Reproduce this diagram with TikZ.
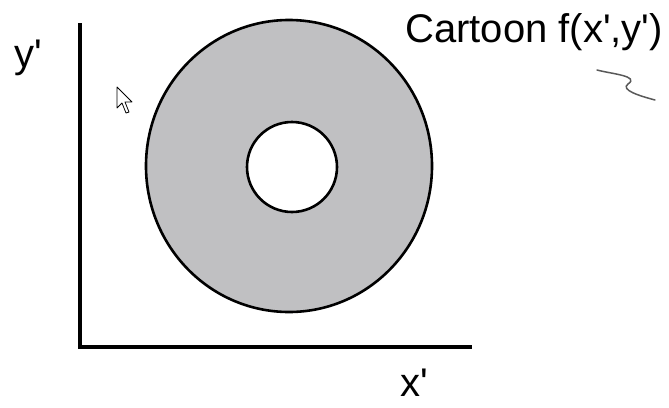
\documentclass[tikz,border=0pt]{standalone}
\usepackage{fontspec}
\setmainfont{Liberation Sans}
\usepackage{tikz}
\definecolor{ringgray}{RGB}{192,192,194}

\begin{document}
\begin{tikzpicture}[x=1pt, y=-1pt, line width=2.6pt,
    lbl/.style={font=\fontsize{40}{46}\selectfont, inner sep=0pt}]
        \useasboundingbox (0,0) rectangle (669,407);

        % 坐标轴
        \coordinate (ytop) at (80,23);
        \coordinate (origin) at (80,347);
        \coordinate (xend) at (472,347);
        \draw[line width=3.5pt] (ytop) -- (origin) -- (xend);

        % 圆环
        \fill[ringgray, even odd rule] (289,166) ellipse [x radius=143, y radius=146]
            (292,167) circle (45);
        \draw (289,166) ellipse [x radius=143, y radius=146];
        \draw[fill=white] (292,167) circle (45);

        % 标签
        \node[lbl] (ylab) at (28,58) {y\textquotesingle};
        \node[lbl] (xlab) at (414,383) {x\textquotesingle};
        \node[lbl, anchor=west] (title) at (404,32) {Cartoon f(x\textquotesingle,y\textquotesingle)};

        % 鼠标指针
        \draw[line width=0.8pt, fill=white, line join=round] (117,87) -- (117,108) -- (122,103)
            -- (126,113) -- (129,112) -- (125,102) -- (132,102) -- cycle;

        % 手写线
        \draw[line width=1.5pt, black!65, line cap=round]
            (597,70) .. controls (612,74) and (640,76) .. (628,84)
            .. controls (620,90) and (640,96) .. (655,100);
    \end{tikzpicture}
\end{document}
